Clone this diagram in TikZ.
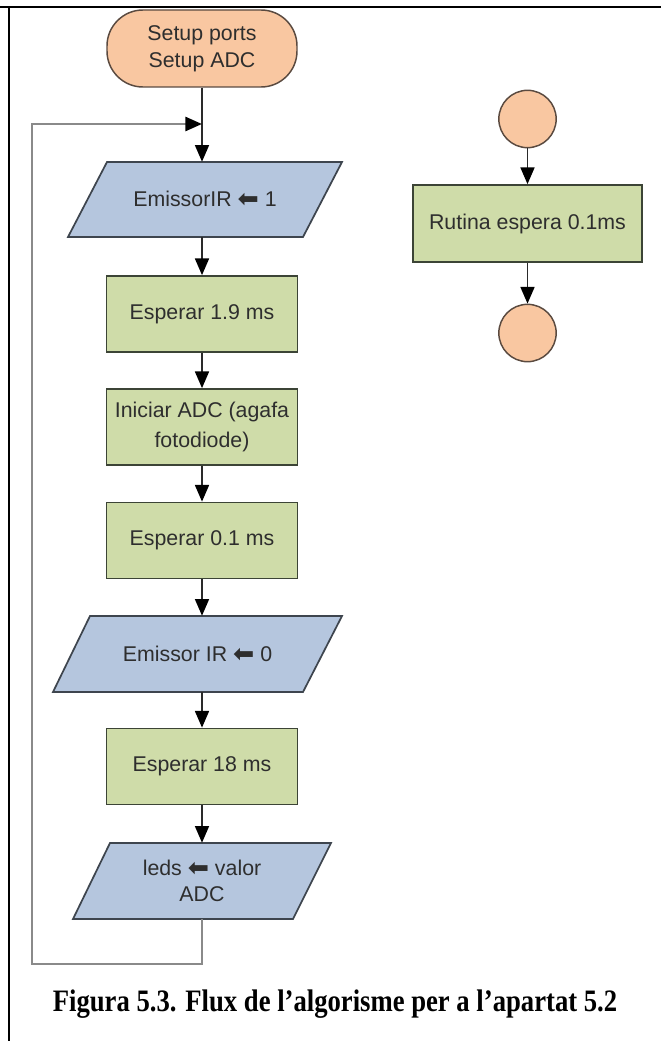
\documentclass[tikz,border=0pt]{standalone}
\usepackage{fontspec}
\usepackage{graphicx}
\setmainfont{Liberation Sans}
\newfontfamily\diagf{Liberation Sans}
\newfontfamily\arrowf{DejaVu Sans}
\newfontfamily\captf{Liberation Serif}
\usetikzlibrary{arrows.meta}
\definecolor{termf}{HTML}{F9C7A1}
\definecolor{termd}{HTML}{5A4A40}
\definecolor{boxf}{HTML}{CFDCA9}
\definecolor{boxd}{HTML}{3C4436}
\definecolor{parf}{HTML}{B5C6DE}
\definecolor{pard}{HTML}{3E454E}
\definecolor{txt}{HTML}{2E2E2E}
\definecolor{conn}{HTML}{2A2A2A}
\definecolor{loopc}{HTML}{8A8A8A}
\newcommand\larr{\raisebox{-0.5pt}{\arrowf\fontsize{19pt}{19pt}\selectfont ⬅}}
\begin{document}
\begin{tikzpicture}[x=0.75pt,y=-0.75pt,
  lbl/.style={font=\diagf\fontsize{16pt}{20.5pt}\selectfont, text=txt, align=center, inner sep=0pt},
  stepbox/.style={lbl, draw=boxd, fill=boxf, line width=1.3pt, minimum width=143.25pt, minimum height=57pt},
  term/.style={lbl, draw=termd, fill=termf, line width=1.1pt, rounded corners=27pt, minimum width=142.5pt, minimum height=57.75pt},
  circ/.style={circle, draw=termd, fill=termf, line width=1.1pt, minimum size=43pt, inner sep=0pt},
  parashape/.style={draw=pard, fill=parf, line width=1.3pt, line join=miter},
  arr/.style={draw=conn, line width=1.2pt, -{Triangle[length=12.5pt,width=10.5pt,color=black]}},
  looparr/.style={draw=loopc, line width=2pt, -{Triangle[length=12.5pt,width=10.5pt,color=black]}},
]
\useasboundingbox (0,0) rectangle (661,1041);
% table borders
\draw[line width=2.2pt] (0,7) -- (661,7);
\draw[line width=1.6pt] (9,7) -- (9,1041);

% main column
\node[term] (t) at (202,48.5) {Setup ports\\Setup ADC};

\path[parashape] (68,237) -- (303,237) -- (342,162) -- (107,162) -- cycle;
\node[lbl, minimum width=176.25pt, minimum height=56.25pt] (p1) at (205,199.5) {EmissorIR \larr{} 1};

\node[stepbox] (b1) at (202,314) {Esperar 1.9 ms};
\node[stepbox, font=\diagf\fontsize{16pt}{22pt}\selectfont] (b2) at (202,427) {Iniciar ADC (agafa\\fotodiode)};
\node[stepbox] (b3) at (202,540.5) {Esperar 0.1 ms};

\path[parashape] (53,692) -- (303,692) -- (342,616) -- (90,616) -- cycle;
\node[lbl, minimum width=187.5pt, minimum height=57pt] (p2) at (197.5,654) {Emissor IR \larr{} 0};

\node[stepbox] (b4) at (202,766.5) {Esperar 18 ms};

\path[parashape] (73,919) -- (293,919) -- (331,843) -- (110,843) -- cycle;
\node[lbl, minimum width=165pt, minimum height=57pt, font=\diagf\fontsize{16pt}{19.5pt}\selectfont] (p3) at (202,881) {leds \larr{} valor\\ADC};

\coordinate (merge) at (202,124);
\coordinate (lb) at (32,964);
\coordinate (lt) at (32,124);

\draw[arr] (t.south) -- (t.south |- p1.north);
\draw[arr] (b1.north |- p1.south) -- (b1.north);
\draw[arr] (b1.south) -- (b2.north);
\draw[arr] (b2.south) -- (b3.north);
\draw[arr] (b3.south) -- (b3.south |- p2.north);
\draw[arr] (b4.north |- p2.south) -- (b4.north);
\draw[arr] (b4.south) -- (b4.south |- p3.north);
\draw[looparr] (b4.south |- p3.south) -- (b4.south |- lb) -- (lb) -- (lt) -- (merge);

% right column
\node[circ] (c1) at (527.5,119) {};
\node[stepbox, minimum width=171.75pt, minimum height=57.75pt] (rb) at (527.5,223.5) {Rutina espera 0.1ms};
\node[circ] (c2) at (527.5,333) {};
\draw[arr] (c1.south) -- (c1.south |- rb.north);
\draw[arr] (c2.north |- rb.south) -- (c2.north);

% caption
\node[font=\captf\bfseries\fontsize{20pt}{24pt}\selectfont, inner sep=0pt] (cap) at (335,1004) {\scalebox{1}[1.17]{Figura 5.3. Flux de l’algorisme per a l’apartat 5.2}};
\end{tikzpicture}
\end{document}
